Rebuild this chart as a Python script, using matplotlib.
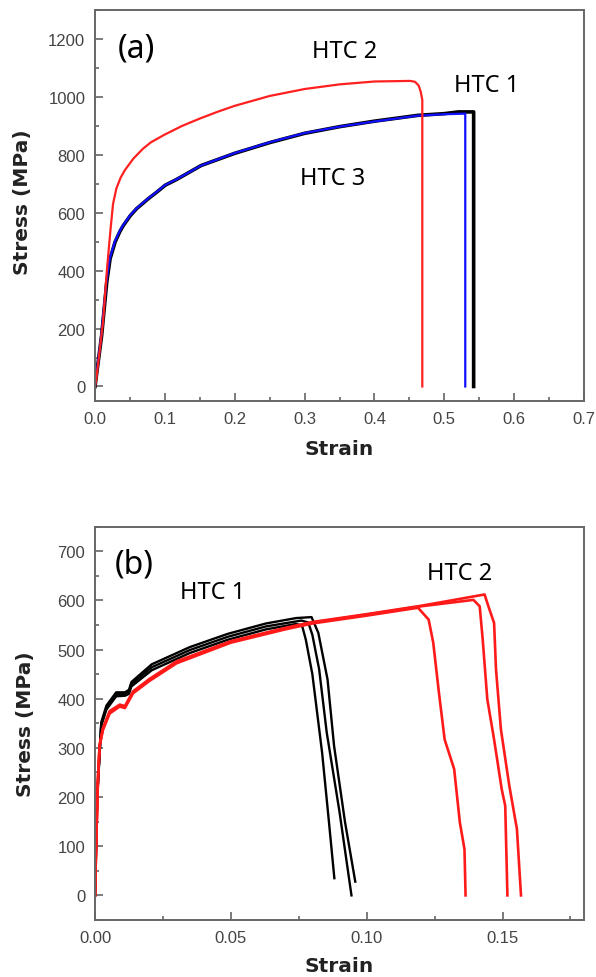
# -*- coding: utf-8 -*-
"""
Stress-strain curves for HTC 1/2/3, panels (a) and (b)
"""

import numpy as np
import matplotlib.pyplot as plt
from matplotlib.ticker import MultipleLocator

plt.rcParams['font.family'] = 'Liberation Sans'

#------------------------------------------------------------------------------
# data
#
# (a) single curves
a_htc2_strain = [0.0, 0.0019, 0.0115, 0.0172, 0.0219, 0.0258, 0.0305, 0.0365, 0.0425, 0.055, 0.0687,
                 0.08, 0.10, 0.125, 0.15, 0.175, 0.20, 0.25, 0.30, 0.35, 0.40, 0.451, 0.458,
                 0.463, 0.466, 0.4685, 0.4685]
a_htc2_stress = [0, 27, 223, 406, 534, 630, 683, 720, 746, 787, 821,
                 843, 870, 900, 925, 948, 969, 1003, 1027, 1043, 1053, 1055, 1052,
                 1040, 1020, 990, 0]

a_htc3_strain = [0.0, 0.009, 0.0162, 0.021, 0.0282, 0.035, 0.040, 0.050, 0.059, 0.075, 0.0878,
                 0.10, 0.1164, 0.152, 0.20, 0.25, 0.30, 0.35, 0.40, 0.462, 0.50, 0.530, 0.530]
a_htc3_stress = [0, 176, 360, 441, 499, 535, 556, 590, 614, 647, 671,
                 695, 715, 763, 806, 843, 875, 897, 915, 935, 940, 942, 0]

a_htc1_strain = [0.0, 0.0095, 0.0168, 0.0216, 0.0288, 0.0356, 0.0406, 0.0506, 0.0596, 0.0756, 0.0884,
                 0.1006, 0.117, 0.152, 0.20, 0.25, 0.30, 0.35, 0.40, 0.462, 0.50, 0.52, 0.542, 0.542]
a_htc1_stress = [0, 176, 360, 441, 499, 535, 556, 590, 614, 647, 671,
                 695, 715, 763, 805, 842, 874, 897, 916, 936, 942, 948, 948, 0]

# (b) three specimens each
b_htc1_strain = [
    [0.0, 0.0008, 0.0023, 0.0042, 0.0078, 0.0110, 0.0125, 0.0134, 0.0209, 0.0349, 0.0489, 0.0629, 0.0740, 0.0762, 0.0776, 0.0800, 0.0836, 0.0861, 0.0881],
    [0.0, 0.0008, 0.0023, 0.0042, 0.0078, 0.0110, 0.0125, 0.0134, 0.0209, 0.0349, 0.0489, 0.0629, 0.0760, 0.0785, 0.0800, 0.0825, 0.0853, 0.0900, 0.0944],
    [0.0, 0.0008, 0.0023, 0.0042, 0.0078, 0.0110, 0.0125, 0.0134, 0.0209, 0.0349, 0.0489, 0.0629, 0.0740, 0.0797, 0.0822, 0.0856, 0.0880, 0.0920, 0.0958],
]
b_htc1_stress = [
    [0, 200, 345, 378, 405, 406, 410, 425, 458, 493, 520, 541, 552, 549, 520, 450, 290, 150, 35],
    [0, 200, 348, 382, 409, 410, 414, 430, 464, 499, 526, 547, 559, 555, 530, 460, 331, 170, 0],
    [0, 200, 352, 386, 413, 413, 418, 434, 470, 505, 532, 553, 564, 566, 534, 439, 304, 150, 28],
]

b_htc2_strain = [
    [0.0, 0.0005, 0.0011, 0.0017, 0.0029, 0.0054, 0.0091, 0.0110, 0.014, 0.02, 0.03, 0.05, 0.07, 0.08, 0.10, 0.1189, 0.1228, 0.1245, 0.1266, 0.1287, 0.1322, 0.1343, 0.1360, 0.1364],
    [0.0, 0.0005, 0.0011, 0.0017, 0.0029, 0.0054, 0.0091, 0.0110, 0.014, 0.02, 0.03, 0.05, 0.07, 0.08, 0.10, 0.12, 0.1393, 0.1416, 0.1427, 0.1444, 0.1469, 0.1497, 0.1510, 0.1518],
    [0.0, 0.0005, 0.0011, 0.0017, 0.0029, 0.0054, 0.0091, 0.0110, 0.014, 0.02, 0.03, 0.05, 0.07, 0.08, 0.10, 0.12, 0.1434, 0.1448, 0.1469, 0.1476, 0.1494, 0.1525, 0.1553, 0.1568],
]
b_htc2_stress = [
    [0, 121, 237, 304, 336, 370, 384, 381, 411, 436, 472, 514, 541, 553, 569, 585, 561, 514, 412, 317, 257, 148, 94, 0],
    [0, 121, 238, 305, 338, 373, 386, 383, 413, 438, 474, 516, 543, 555, 571, 588, 601, 588, 521, 399, 317, 216, 182, 0],
    [0, 121, 239, 306, 340, 375, 388, 385, 415, 440, 476, 517, 544, 556, 572, 589, 612, 588, 554, 460, 338, 223, 135, 0],
]

#------------------------------------------------------------------------------
# plotting settings
tick_col = '#444444'
spine_col = '#666666'
lfont = 'DejaVu Sans'
lsize = 14.5    # axis label size
tsize = 12      # tick label size
htc_size = 17   # HTC annotation size
pan_size = 23   # panel letter size


def style_axes(ax, xmajor, xminor, ymajor, yminor):
    ax.xaxis.set_major_locator(MultipleLocator(xmajor))
    ax.xaxis.set_minor_locator(MultipleLocator(xminor))
    ax.yaxis.set_major_locator(MultipleLocator(ymajor))
    ax.yaxis.set_minor_locator(MultipleLocator(yminor))
    ax.tick_params(which='both', direction='in', top=False, right=False,
                   colors=spine_col, labelcolor=tick_col, labelsize=tsize, width=1.2)
    ax.tick_params(which='major', length=6, pad=7)
    ax.tick_params(which='minor', length=3)
    for sp in ax.spines.values():
        sp.set_color(spine_col)
        sp.set_linewidth(1.4)
    ax.set_xlabel('Strain', fontsize=lsize, fontweight='bold', family=lfont, color='#222222')
    ax.set_ylabel('Stress (MPa)', fontsize=lsize, fontweight='bold', family=lfont, color='#222222')


fig = plt.figure(figsize=(5.96, 9.78), dpi=100)

#------------------------------------------------------------------------------
# (a)
ax1 = fig.add_axes([0.1594, 0.589, 0.8205, 0.3998])
ax1.plot(a_htc1_strain, a_htc1_stress, color='k', linewidth=2.6)
ax1.plot(a_htc3_strain, a_htc3_stress, color='#1010ff', linewidth=1.6)
ax1.plot(a_htc2_strain, a_htc2_stress, color='#ff2020', linewidth=1.6)
ax1.set_xlim(0, 0.7)
ax1.set_ylim(-50, 1300)
style_axes(ax1, 0.1, 0.05, 200, 100)
ax1.xaxis.set_major_formatter(lambda v, p: '%.1f' % v)
ax1.xaxis.set_label_coords(0.5, -0.097)
ax1.yaxis.set_label_coords(-0.129, 0.51)
ax1.text(0.059, 1168, '(a)', fontsize=pan_size, family='Noto Sans', ha='center', va='center')
ax1.text(0.358, 1157, 'HTC 2', fontsize=htc_size, family='Noto Sans', ha='center', va='center')
ax1.text(0.560, 1042, 'HTC 1', fontsize=htc_size, family='Noto Sans', ha='center', va='center')
ax1.text(0.340, 720, 'HTC 3', fontsize=htc_size, family='Noto Sans', ha='center', va='center')

#------------------------------------------------------------------------------
# (b)
ax2 = fig.add_axes([0.1594, 0.0583, 0.8205, 0.4022])
for s, t in zip(b_htc1_strain, b_htc1_stress):
    ax2.plot(s, t, color='k', linewidth=1.7)
for s, t in zip(b_htc2_strain, b_htc2_stress):
    ax2.plot(s, t, color='#ff1a1a', linewidth=1.9)
ax2.set_xlim(0, 0.18)
ax2.set_ylim(-50, 750)
style_axes(ax2, 0.05, 0.025, 100, 50)
ax2.xaxis.set_major_formatter(lambda v, p: '%.2f' % v)
ax2.xaxis.set_label_coords(0.5, -0.092)
ax2.yaxis.set_label_coords(-0.122, 0.5)
ax2.text(0.0146, 673, '(b)', fontsize=pan_size, family='Noto Sans', ha='center', va='center')
ax2.text(0.0433, 617, 'HTC 1', fontsize=htc_size, family='Noto Sans', ha='center', va='center')
ax2.text(0.1343, 656, 'HTC 2', fontsize=htc_size, family='Noto Sans', ha='center', va='center')

plt.savefig('out.png', dpi=100)
